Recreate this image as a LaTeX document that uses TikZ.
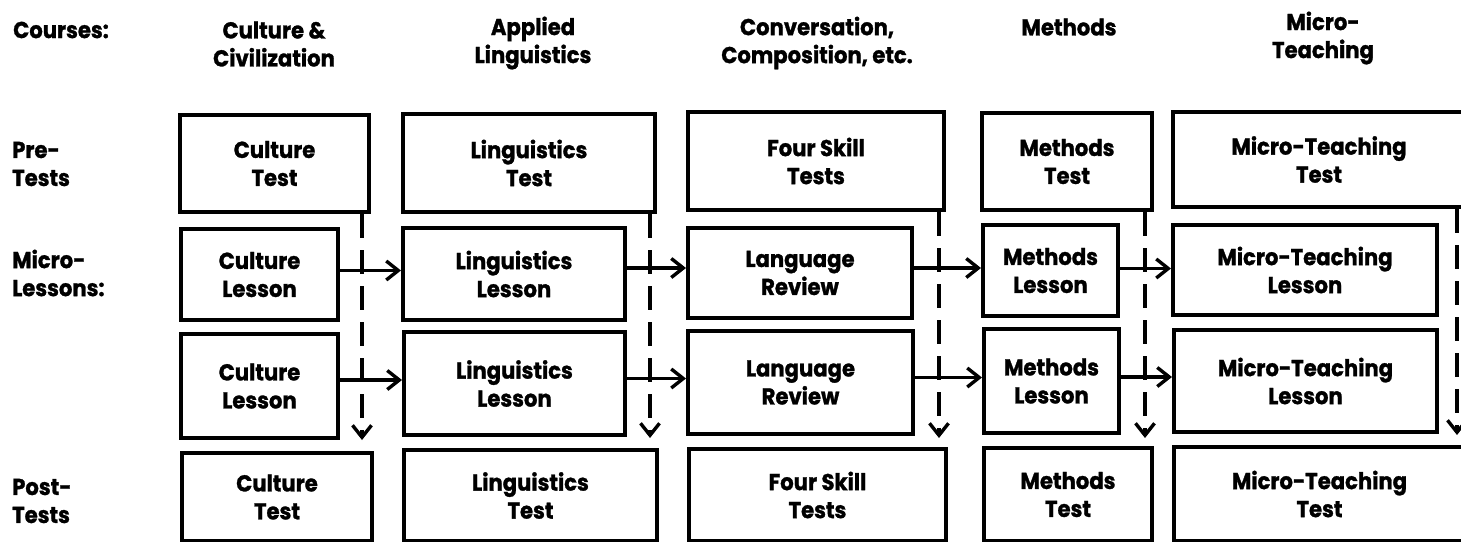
\documentclass[tikz,border=0pt]{standalone}
\usepackage{fontspec}
\setmainfont{Poppins}[FakeStretch=0.92,BoldFeatures={FakeBold=1.2}]
\usetikzlibrary{arrows.meta,calc}
\newcommand\mybox[6]{\node[box,minimum width={(#4-#2)*1pt},minimum height={(#5-#3)*1pt}] (#1) at ({(#2+#4)/2},{(#3+#5)/2}) {#6};}
\begin{document}
\begin{tikzpicture}[x=1pt,y=-1pt,
  txt/.style={font=\bfseries\fontsize{23}{28}\selectfont,align=center,inner sep=0pt},
  box/.style={txt,draw,line width=4pt},
  lab/.style={txt,align=left,anchor=west},
  dl/.style={line width=3.6pt,dash pattern=on 24pt off 12pt,-{Straight Barb[length=12pt,width=19pt,line width=3.4pt]}},
  ar/.style={line width=3.6pt,-{Straight Barb[length=12pt,width=19pt,line width=3.4pt]}}
]
\useasboundingbox (0,0) rectangle (1461,541);
\clip (0,0) rectangle (1461,541);
% row labels
\node[lab] (courses) at (13,30) {Courses:};
\node[lab] (pre) at (12,164) {Pre-\\Tests};
\node[lab] (micro) at (12,273) {Micro-\\Lessons:};
\node[lab] (post) at (12,501) {Post-\\Tests};
% column headers
\node[txt] (h1) at (274,44) {Culture \&\\Civilization};
\node[txt] (h2) at (533,43) {Applied\\Linguistics};
\node[txt] (h3) at (817,43) {Conversation,\\Composition, etc.};
\node[txt] (h4) at (1069,27) {Methods};
\node[txt] (h5) at (1323,38) {Micro-\\Teaching};
% pre-tests
\mybox{pt1}{180}{115}{369}{212}{Culture\\Test}
\mybox{pt2}{403}{114}{655}{212}{Linguistics\\Test}
\mybox{pt3}{688}{112}{944}{210}{Four Skill\\Tests}
\mybox{pt4}{982}{113}{1152}{210}{Methods\\Test}
\mybox{pt5}{1173}{112}{1475}{207}{\hspace*{-10pt}Micro-Teaching\\\hspace*{-10pt}Test}
% lessons row 1
\mybox{la1}{181}{229}{338}{320}{Culture\\Lesson}
\mybox{la2}{403}{228}{625}{320}{Linguistics\\Lesson}
\mybox{la3}{688}{228}{912}{318}{Language\\Review}
\mybox{la4}{983}{225}{1118}{316}{Methods\\Lesson}
\mybox{la5}{1173}{225}{1437}{315}{Micro-Teaching\\Lesson}
% lessons row 2
\mybox{lb1}{181}{334}{338}{438}{Culture\\Lesson}
\mybox{lb2}{404}{332}{625}{435}{Linguistics\\Lesson}
\mybox{lb3}{688}{331}{913}{434}{Language\\Review}
\mybox{lb4}{984}{329}{1119}{433}{Methods\\Lesson}
\mybox{lb5}{1174}{330}{1437}{432}{Micro-Teaching\\Lesson}
% post-tests
\mybox{p1}{182}{453}{372}{541}{Culture\\Test}
\mybox{p2}{404}{450}{657}{541}{Linguistics\\Test}
\mybox{p3}{689}{449}{946}{541}{Four Skill\\Tests}
\mybox{p4}{984}{448}{1152}{541}{Methods\\Test}
\mybox{p5}{1174}{447}{1475}{541}{\hspace*{-10pt}Micro-Teaching\\\hspace*{-10pt}Test}
% dashed verticals
\draw[dl] ($(pt1.south east)+(-9,0)$) -- ($(pt1.south east |- p1.north)+(-9,-11)$);
\draw[dl] ($(pt2.south east)+(-7,0)$) -- ($(pt2.south east |- p2.north)+(-7,-10)$);
\draw[dl] ($(pt3.south east)+(-7,0)$) -- ($(pt3.south east |- p3.north)+(-7,-9)$);
\draw[dl] ($(pt4.south east)+(-9,0)$) -- ($(pt4.south east |- p4.north)+(-9,-8)$);
\draw[dl] ($(pt5.south west)+(286,0)$) -- ($(pt5.south west |- p5.north)+(286,-10)$);
% horizontal arrows row 1
\draw[ar] ($(la1.east)+(0,-4)$) -- ($(la1.east -| la2.west)+(0,-4)$);
\draw[ar] ($(la2.east)+(0,-6)$) -- ($(la2.east -| la3.west)+(0,-6)$);
\draw[ar] ($(la3.east)+(0,-5)$) -- ($(la3.east -| la4.west)+(0,-5)$);
\draw[ar] ($(la4.east)+(0,-2)$) -- ($(la4.east -| la5.west)+(0,-2)$);
% horizontal arrows row 2
\draw[ar] ($(lb1.east)+(0,-6)$) -- ($(lb1.east -| lb2.west)+(0,-6)$);
\draw[ar] ($(lb2.east)+(0,-5)$) -- ($(lb2.east -| lb3.west)+(0,-5)$);
\draw[ar] ($(lb3.east)+(0,-5)$) -- ($(lb3.east -| lb4.west)+(0,-5)$);
\draw[ar] ($(lb4.east)+(0,-4)$) -- ($(lb4.east -| lb5.west)+(0,-4)$);
\end{tikzpicture}
\end{document}
